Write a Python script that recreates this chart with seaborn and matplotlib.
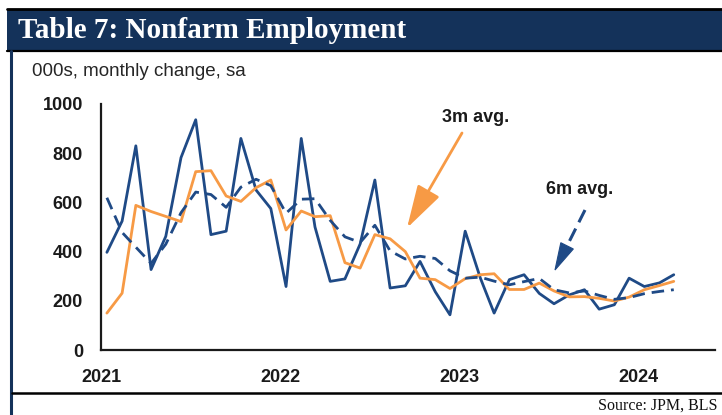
import numpy as np
import pandas as pd
import matplotlib
matplotlib.use("Agg")
import matplotlib.pyplot as plt
import seaborn as sns
from matplotlib.lines import Line2D
from matplotlib.patches import Rectangle, Polygon

# ---------------- data ----------------
months = pd.date_range("2021-01-01", periods=39, freq="MS") + pd.Timedelta(days=12)
payrolls = [397, 524, 830, 327, 462, 782, 936, 469, 483, 860, 650, 575,
            258, 860, 500, 279, 289, 431, 691, 252, 261, 360, 237, 143,
            483, 292, 150, 286, 306, 230, 188, 224, 245, 166, 184, 292,
            258, 273, 306]
avg3m = [150, 231, 588, 563, 543, 522, 725, 729, 626, 604, 660, 691,
         488, 565, 542, 546, 355, 333, 469, 452, 400, 292, 286, 250,
         290, 306, 310, 246, 246, 272, 240, 216, 217, 210, 199, 215,
         245, 262, 279]
avg6m = [619, 478, 418, 352, 430, 558, 642, 632, 580, 662, 694, 668,
         556, 613, 615, 527, 460, 437, 507, 403, 370, 381, 372, 322,
         292, 296, 280, 265, 278, 291, 245, 232, 240, 222, 206, 213,
         229, 238, 245]
year_ticks = ["2021", "2022", "2023", "2024"]
y_ticks = [0, 200, 400, 600, 800, 1000]

title = "Table 7: Nonfarm Employment"
subtitle = "000s, monthly change, sa"
source = "Source: JPM, BLS"

df = pd.DataFrame({"date": months, "payrolls": payrolls,
                   "avg3m": avg3m, "avg6m": avg6m})

# ---------------- style ----------------
W, H = 722, 415
NAVY = "#14325a"
BLUE = "#1f4a86"
ORANGE = "#f79a45"
INK = "#1a1a1a"

sns.set_style("white")
plt.rcParams["font.family"] = ["Liberation Sans", "DejaVu Sans"]

fig = plt.figure(figsize=(W / 100, H / 100), dpi=100)
fig.patch.set_facecolor("white")

def fx(px):
    return px / W

def fy(py):
    return 1 - py / H

ax = fig.add_axes([fx(101), fy(350), fx(715) - fx(101), fy(104) - fy(350)])

sns.lineplot(data=df, x="date", y="payrolls", ax=ax, color=BLUE, lw=2.0)
sns.lineplot(data=df, x="date", y="avg3m", ax=ax, color=ORANGE, lw=2.0)
sns.lineplot(data=df, x="date", y="avg6m", ax=ax, color=BLUE, lw=2.0,
             linestyle=(0, (4.5, 2.5)))

ax.set_ylim(0, 1000)
ax.set_xlim(pd.Timestamp("2021-01-01"), pd.Timestamp("2024-06-05"))
ax.set_yticks(y_ticks)
ax.set_yticklabels([str(v) for v in y_ticks])
ax.set_xticks([pd.Timestamp(f"{y}-01-01") for y in year_ticks])
ax.set_xticklabels(year_ticks)
ax.set_xlabel("")
ax.set_ylabel("")

for side in ["top", "right"]:
    ax.spines[side].set_visible(False)
for side in ["left", "bottom"]:
    ax.spines[side].set_color(INK)
    ax.spines[side].set_linewidth(1.6)

ax.tick_params(axis="y", direction="out", length=4, width=1.4, color=INK,
               pad=9, labelsize=13, labelcolor=INK)
ax.tick_params(axis="x", direction="out", length=4, width=1.4, color=INK,
               pad=10, labelsize=13, labelcolor=INK)
for lab in ax.get_xticklabels() + ax.get_yticklabels():
    lab.set_fontweight("bold")

# ---------------- frame / header ----------------
fig.add_artist(Rectangle((fx(7), fy(51)), fx(722) - fx(7), fy(10) - fy(51),
                         transform=fig.transFigure, facecolor=NAVY,
                         edgecolor="none", zorder=0))
fig.add_artist(Line2D([fx(7), fx(722)], [fy(9.5), fy(9.5)], transform=fig.transFigure,
                      color="black", lw=2.0))
fig.add_artist(Line2D([fx(7), fx(722)], [fy(51.5), fy(51.5)], transform=fig.transFigure,
                      color="black", lw=1.6))
fig.add_artist(Line2D([fx(11), fx(11)], [fy(51), fy(415)], transform=fig.transFigure,
                      color=NAVY, lw=2.2))
fig.add_artist(Line2D([fx(12), fx(722)], [fy(393), fy(393)], transform=fig.transFigure,
                      color="black", lw=1.8))

fig.text(fx(18), fy(31), title, color="white", fontsize=21, fontweight="bold",
         family=["Liberation Serif", "DejaVu Serif"], va="center", ha="left")
fig.text(fx(32), fy(71), subtitle, color="#262626", fontsize=13.5,
         va="center", ha="left")
fig.text(fx(718), fy(406), source, color="#111111", fontsize=11.5,
         family=["Liberation Serif", "DejaVu Serif"], va="center", ha="right")

# ---------------- annotations ----------------
fig.text(fx(476), fy(118), "3m avg.", fontsize=13, fontweight="bold",
         color=INK, ha="center", va="center")
fig.text(fx(580), fy(189), "6m avg.", fontsize=13, fontweight="bold",
         color=INK, ha="center", va="center")

# orange solid arrow
ax.annotate("", xy=(fx(407), fy(228)), xycoords="figure fraction",
            xytext=(fx(462), fy(133)), textcoords="figure fraction",
            arrowprops=dict(arrowstyle="-|>,head_length=1.9,head_width=0.55",
                            color=ORANGE, lw=2.0, mutation_scale=14,
                            shrinkA=0, shrinkB=0))

# navy dashed arrow: dashed shaft + solid head
tail = np.array([585.0, 210.0])
tip = np.array([555.0, 270.0])
u = (tip - tail) / np.linalg.norm(tip - tail)
perp = np.array([-u[1], u[0]])
head_len, head_half = 27.0, 7.0
base = tip - head_len * u
fig.add_artist(Line2D([fx(tail[0]), fx(base[0] - 1 * u[0])],
                      [fy(tail[1]), fy(base[1] - 1 * u[1])],
                      transform=fig.transFigure, color=BLUE, lw=2.2,
                      linestyle=(0, (4.5, 2.3))))
corners = [tip, base + head_half * perp, base - head_half * perp]
fig.add_artist(Polygon([(fx(p[0]), fy(p[1])) for p in corners], closed=True,
                       transform=fig.transFigure, facecolor=BLUE,
                       edgecolor=BLUE, lw=0.8))

fig.savefig("out.png", dpi=100, facecolor="white")
